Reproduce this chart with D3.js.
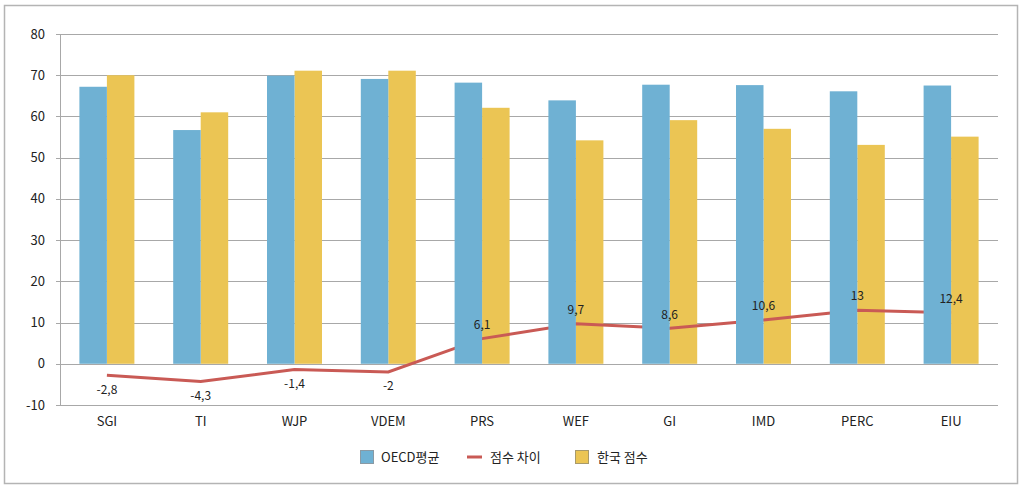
<!DOCTYPE html>
<html>
<head>
<meta charset="utf-8">
<script src="https://cdn.jsdelivr.net/npm/d3@7"></script>
<style>
  body { margin: 0; background: #fff; }
  svg { font-family: "Noto Sans CJK KR", "DejaVu Sans", sans-serif; }
</style>
</head>
<body>
<script>
// chart data
const categories = ["SGI", "TI", "WJP", "VDEM", "PRS", "WEF", "GI", "IMD", "PERC", "EIU"];
const oecdAvg = [67.2, 56.7, 69.9, 69.1, 68.2, 63.9, 67.7, 67.6, 66.1, 67.5];
const koreaScore = [70.0, 61.0, 71.1, 71.1, 62.1, 54.2, 59.1, 57.0, 53.1, 55.1];
const scoreDiff = [-2.8, -4.3, -1.4, -2, 6.1, 9.7, 8.6, 10.6, 13, 12.4];
const yTicks = [-10, 0, 10, 20, 30, 40, 50, 60, 70, 80];
const legendLabels = ["OECD평균", "점수 차이", "한국 점수"];

const width = 1024, height = 490;
const blue = "#6fb1d3", yellow = "#ebc554", red = "#c95a55";

const svg = d3.select("body").append("svg")
    .attr("width", width)
    .attr("height", height);

// outer frame
svg.append("rect")
    .attr("x", 4.5).attr("y", 5.5)
    .attr("width", 1013).attr("height", 478)
    .attr("fill", "none")
    .attr("stroke", "#b4b4b4")
    .attr("stroke-width", 1.5);

const plotLeft = 60, plotRight = 998, plotTop = 34, plotBottom = 405;

let x = d3.scaleBand()
    .domain(categories)
    .range([plotLeft, plotRight]);

let y = d3.scaleLinear()
    .domain([-10, 80])
    .range([plotBottom, plotTop]);

const barW = 27.5;

// gridlines
svg.append("g")
    .selectAll("line")
    .data(yTicks)
    .enter().append("line")
    .attr("x1", plotLeft - 4)
    .attr("x2", plotRight)
    .attr("y1", d => Math.round(y(d)) + 0.5)
    .attr("y2", d => Math.round(y(d)) + 0.5)
    .attr("stroke", "#a8a8a8")
    .attr("stroke-width", 1);

// y axis line
svg.append("line")
    .attr("x1", plotLeft + 0.5).attr("x2", plotLeft + 0.5)
    .attr("y1", plotTop).attr("y2", plotBottom)
    .attr("stroke", "#a8a8a8");

// y tick labels
svg.append("g")
    .selectAll("text")
    .data(yTicks)
    .enter().append("text")
    .attr("x", plotLeft - 15)
    .attr("y", d => y(d))
    .attr("dy", "0.35em")
    .attr("text-anchor", "end")
    .attr("font-size", 13)
    .attr("fill", "#222")
    .text(d => d);

// x labels
svg.append("g")
    .selectAll("text")
    .data(categories)
    .enter().append("text")
    .attr("x", d => x(d) + x.bandwidth() / 2)
    .attr("y", 421)
    .attr("dy", "0.35em")
    .attr("text-anchor", "middle")
    .attr("font-size", 13)
    .attr("fill", "#222")
    .text(d => d);

// korea bars (drawn under the line)
svg.append("g")
    .selectAll("rect")
    .data(categories)
    .enter().append("rect")
    .attr("x", d => x(d) + x.bandwidth() / 2)
    .attr("y", (d, i) => y(koreaScore[i]))
    .attr("width", barW)
    .attr("height", (d, i) => y(0) - y(koreaScore[i]))
    .attr("fill", yellow);

// difference line
let line = d3.line()
    .x((d, i) => x(categories[i]) + x.bandwidth() / 2)
    .y(d => y(d));

svg.append("path")
    .datum(scoreDiff)
    .attr("d", line)
    .attr("fill", "none")
    .attr("stroke", red)
    .attr("stroke-width", 3);

// oecd bars (drawn over the line)
svg.append("g")
    .selectAll("rect")
    .data(categories)
    .enter().append("rect")
    .attr("x", d => x(d) + x.bandwidth() / 2 - barW)
    .attr("y", (d, i) => y(oecdAvg[i]))
    .attr("width", barW)
    .attr("height", (d, i) => y(0) - y(oecdAvg[i]))
    .attr("fill", blue);

// difference labels
svg.append("g")
    .selectAll("text")
    .data(scoreDiff)
    .enter().append("text")
    .attr("x", (d, i) => x(categories[i]) + x.bandwidth() / 2)
    .attr("y", d => d < 0 ? y(d) + 14 : y(d) - 14)
    .attr("dy", "0.35em")
    .attr("text-anchor", "middle")
    .attr("font-size", 12)
    .attr("fill", "#222")
    .text(d => String(d).replace(".", ","));

// legend
let legend = svg.append("g").attr("transform", "translate(360,457)");
legend.append("rect")
    .attr("x", 0.5).attr("y", -6.5).attr("width", 13).attr("height", 13)
    .attr("fill", blue).attr("stroke", "#8a9aa4");
legend.append("text")
    .attr("x", 21).attr("y", 0).attr("dy", "0.35em")
    .attr("font-size", 13).attr("fill", "#222")
    .text(legendLabels[0]);
legend.append("line")
    .attr("x1", 107).attr("x2", 122).attr("y1", 0).attr("y2", 0)
    .attr("stroke", red).attr("stroke-width", 3);
legend.append("text")
    .attr("x", 130).attr("y", 0).attr("dy", "0.35em")
    .attr("font-size", 13).attr("fill", "#222")
    .text(legendLabels[1]);
legend.append("rect")
    .attr("x", 215.5).attr("y", -6.5).attr("width", 13).attr("height", 13)
    .attr("fill", yellow).attr("stroke", "#a89a6a");
legend.append("text")
    .attr("x", 237).attr("y", 0).attr("dy", "0.35em")
    .attr("font-size", 13).attr("fill", "#222")
    .text(legendLabels[2]);
</script>
</body>
</html>
